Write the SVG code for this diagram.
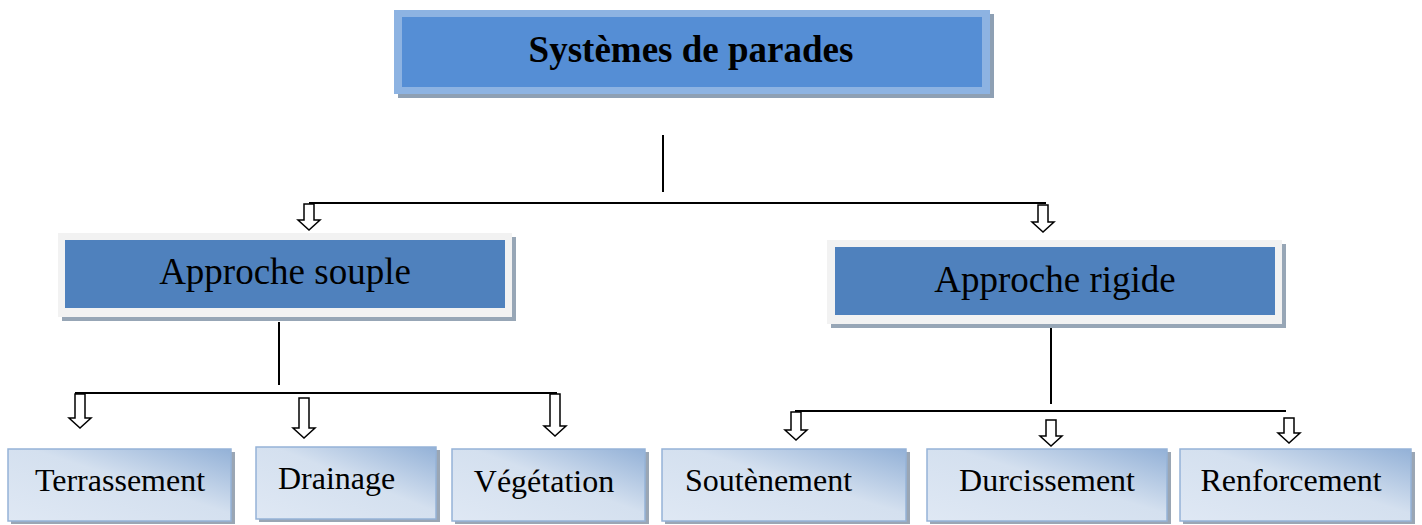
<svg xmlns="http://www.w3.org/2000/svg" width="1422" height="525" viewBox="0 0 1422 525">
  <defs>
    <linearGradient id="leafFill" x1="1" y1="0" x2="0" y2="1">
      <stop offset="0" stop-color="#93b1d7"/>
      <stop offset="0.45" stop-color="#d4e0ef"/>
      <stop offset="1" stop-color="#dfe8f4"/>
    </linearGradient>
  </defs>
  <style>
    .shadow { fill: #8ea0b4; }
    .leaf { fill: url(#leafFill); stroke: #95b3d7; stroke-width: 1.5; }
    .leafShadow { fill: #9aa6b4; }
    .title { font-family: "Liberation Serif", "Times New Roman", serif; font-weight: bold; font-size: 37px; fill: #000; }
    .mid { font-family: "Liberation Serif", "Times New Roman", serif; font-size: 37px; fill: #000; }
    .lbl { font-family: "Liberation Serif", "Times New Roman", serif; font-size: 32px; fill: #000; }
    .wire { stroke: #000; stroke-width: 2; fill: none; }
    .arrow { fill: #fff; stroke: #000; stroke-width: 1.5; stroke-linejoin: miter; }
  </style>

  <!-- connectors -->
  <g id="connectors">
    <line class="wire" x1="663" y1="135" x2="663" y2="192"/>
    <line class="wire" x1="309" y1="203" x2="1046" y2="203"/>
    <path class="arrow" d="M304,204 H314 V220 H320 L309,230 L298,220 H304 Z"/>
    <path class="arrow" d="M1038,205 H1048 V222 H1054 L1043,232 L1032,222 H1038 Z"/>

    <line class="wire" x1="279" y1="322" x2="279" y2="385"/>
    <line class="wire" x1="75" y1="393" x2="557" y2="393"/>
    <path class="arrow" d="M75,394 H85 V418 H91 L80,428 L69,418 H75 Z"/>
    <path class="arrow" d="M299,398 H309 V428 H315 L304,438 L293,428 H299 Z"/>
    <path class="arrow" d="M550,394 H560 V426 H566 L555,436 L544,426 H550 Z"/>

    <line class="wire" x1="1051" y1="328" x2="1051" y2="404"/>
    <line class="wire" x1="795" y1="411" x2="1286" y2="411"/>
    <path class="arrow" d="M791,412 H801 V430 H807 L796,440 L785,430 H791 Z"/>
    <path class="arrow" d="M1046,420 H1056 V436 H1062 L1051,446 L1040,436 H1046 Z"/>
    <path class="arrow" d="M1284,418 H1294 V433 H1300 L1289,443 L1278,433 H1284 Z"/>
  </g>

  <!-- root -->
  <g id="node-systemes">
    <rect class="shadow" x="398" y="14" width="596" height="84"/>
    <rect x="394" y="10" width="596" height="84" fill="#8db3e2"/>
    <rect x="402" y="17" width="580" height="70" fill="#558ed5"/>
    <text class="title" x="691" y="62" text-anchor="middle">Systèmes de parades</text>
  </g>

  <!-- second level -->
  <g id="node-souple">
    <rect x="62" y="237" width="454" height="84" fill="#97a6b6"/>
    <rect x="58" y="233" width="454" height="84" fill="#f2f2f2"/>
    <rect x="65" y="240" width="440" height="68" fill="#4f81bd"/>
    <text class="mid" x="285" y="284" text-anchor="middle">Approche souple</text>
  </g>

  <g id="node-rigide">
    <rect x="831" y="244" width="455" height="84" fill="#97a6b6"/>
    <rect x="827" y="240" width="455" height="84" fill="#f2f2f2"/>
    <rect x="835" y="247" width="440" height="68" fill="#4f81bd"/>
    <text class="mid" x="1055" y="292" text-anchor="middle">Approche rigide</text>
  </g>

  <!-- leaves -->
  <g id="node-terrassement">
    <rect class="leafShadow" x="11" y="452" width="224" height="72"/>
    <rect class="leaf" x="8" y="449" width="223" height="72"/>
    <text class="lbl" x="120" y="491" text-anchor="middle">Terrassement</text>
  </g>
  <g id="node-drainage">
    <rect class="leafShadow" x="259" y="450" width="181" height="72"/>
    <rect class="leaf" x="256" y="447" width="180" height="72"/>
    <text class="lbl" x="278" y="489">Drainage</text>
  </g>
  <g id="node-vegetation">
    <rect class="leafShadow" x="455" y="452" width="194" height="72"/>
    <rect class="leaf" x="452" y="449" width="193" height="72"/>
    <text class="lbl" x="544" y="492" text-anchor="middle">Végétation</text>
  </g>
  <g id="node-soutenement">
    <rect class="leafShadow" x="665" y="452" width="245" height="72"/>
    <rect class="leaf" x="662" y="449" width="244" height="72"/>
    <text class="lbl" x="685" y="491">Soutènement</text>
  </g>
  <g id="node-durcissement">
    <rect class="leafShadow" x="930" y="452" width="241" height="72"/>
    <rect class="leaf" x="927" y="449" width="240" height="72"/>
    <text class="lbl" x="1047" y="491" text-anchor="middle">Durcissement</text>
  </g>
  <g id="node-renforcement">
    <rect class="leafShadow" x="1183" y="452" width="232" height="72"/>
    <rect class="leaf" x="1180" y="449" width="231" height="72"/>
    <text class="lbl" x="1291" y="491" text-anchor="middle">Renforcement</text>
  </g>
</svg>
